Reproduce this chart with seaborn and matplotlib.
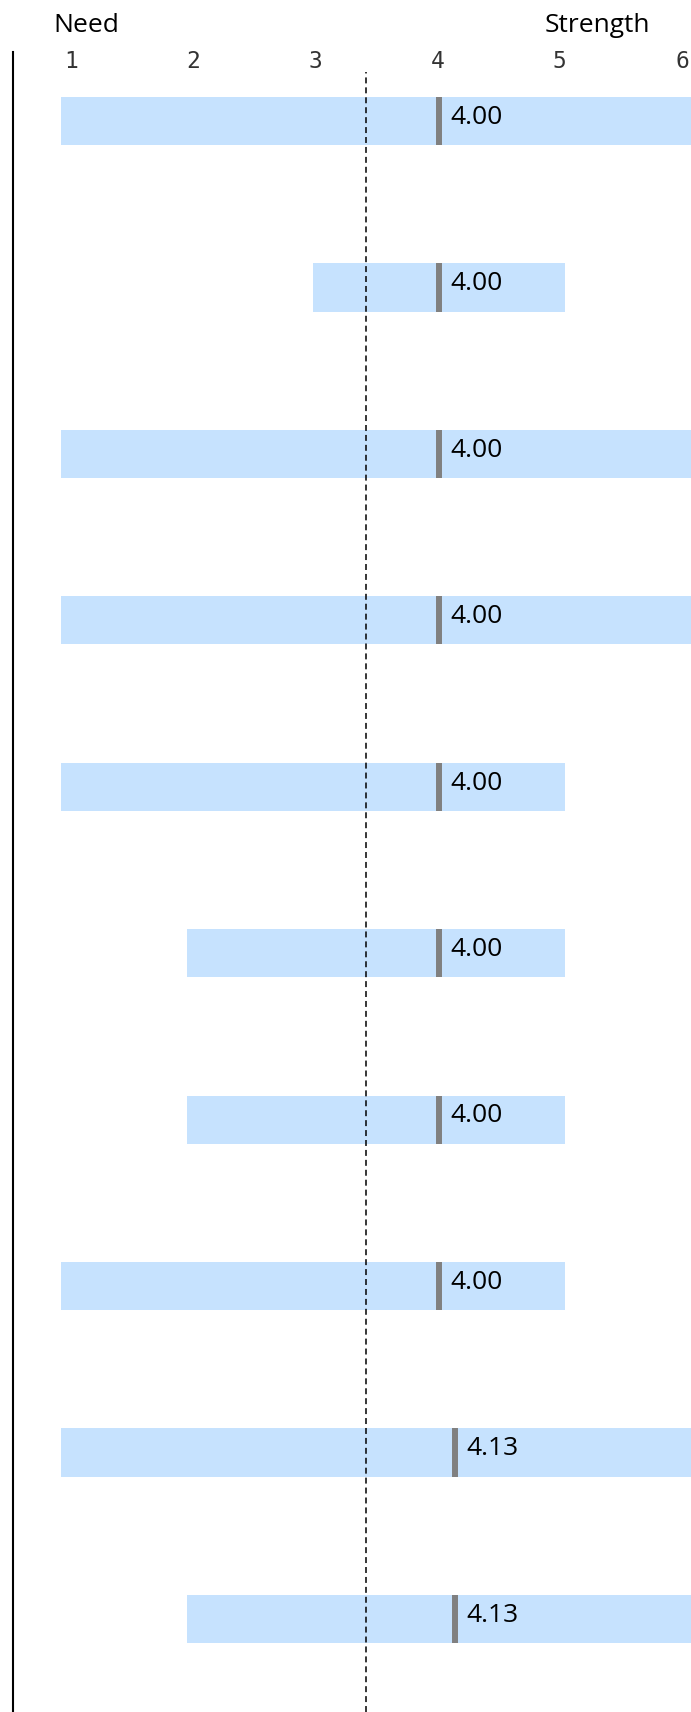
import numpy as np
import pandas as pd
import matplotlib
matplotlib.use("Agg")
import matplotlib.pyplot as plt
import seaborn as sns

# ---------------- data ----------------
items = [f"Item {i}" for i in range(1, 11)]
range_min = [1, 3, 1, 1, 1, 2, 2, 1, 1, 2]
range_max = [6, 5, 6, 6, 5, 5, 5, 5, 6, 6]
scores = [4.00, 4.00, 4.00, 4.00, 4.00, 4.00, 4.00, 4.00, 4.13, 4.13]
benchmark = 3.42
scale_ticks = [1, 2, 3, 4, 5, 6]
left_heading = "Need"
right_heading = "Strength"

# ---------------- style ----------------
BAR_BLUE = "#C6E2FE"
MARK_GREY = "#808080"
TEXT_FS = 19

sns.set_theme(style="white")
plt.rcParams["font.family"] = ["Open Sans", "DejaVu Sans"]

W, H = 691, 1712
fig = plt.figure(figsize=(W / 100, H / 100), dpi=100, facecolor="white")
ax = fig.add_axes([13 / W, 0, 1 - 13 / W, 1 - 52 / H])

df = pd.DataFrame({"item": items, "lo": range_min, "hi": range_max, "score": scores})

sns.barplot(data=df, x="hi", y="item", orient="h", color=BAR_BLUE,
            saturation=1, width=0.29, linewidth=0, ax=ax)
# turn the bars into floating range bars (min .. max)
for patch, lo, hi in zip(ax.patches, df["lo"], df["hi"]):
    patch.set_x(lo)
    patch.set_width(hi - lo)

ypos = np.arange(len(items))
half = ax.patches[0].get_height() / 2
ax.vlines(df["score"], ypos - half, ypos + half, color=MARK_GREY, lw=4.3,
          zorder=3)

for y, s in zip(ypos, df["score"]):
    ax.annotate(f"{s:.2f}", xy=(s, y), xytext=(8, -2), textcoords="offset points",
                ha="left", va="baseline", fontsize=TEXT_FS, color="black", zorder=4)

ax.axvline(benchmark, ymin=0, ymax=1 - 20 / 1660, color="black", lw=1.1,
           ls=(0, (3.9, 2.6)), zorder=2)

ax.set_xlim(1 - 48 / 126, 6.0)
ax.set_ylim(9 + (1712 - 1619) / 166.4, -(121 - 52) / 166.4)
ax.set_xticks([])
ax.set_yticks([])
ax.set_xlabel("")
ax.set_ylabel("")
for s in ["top", "right", "bottom"]:
    ax.spines[s].set_visible(False)
ax.spines["left"].set_color("black")
ax.spines["left"].set_linewidth(1.5)


# scale labels along the top
def to_scale(x):
    return (x - 1.0794) / 0.9698 + 1


def from_scale(s):
    return (s - 1) * 0.9698 + 1.0794


sec = ax.secondary_xaxis("top", functions=(to_scale, from_scale))
sec.set_xticks(scale_ticks)
sec.set_xticklabels([str(t) for t in scale_ticks], fontfamily="DejaVu Sans Mono",
                    fontsize=16.5, color="#333333")
sec.tick_params(axis="x", length=0, pad=-15)
for sp in sec.spines.values():
    sp.set_visible(False)

fig.text(53 / W, 1 - 32 / H, left_heading, fontsize=TEXT_FS, ha="left",
         va="baseline", color="black")
fig.text(545 / W, 1 - 32 / H, right_heading, fontsize=TEXT_FS, ha="left",
         va="baseline", color="black")

fig.savefig("out.png", dpi=100, facecolor="white")
